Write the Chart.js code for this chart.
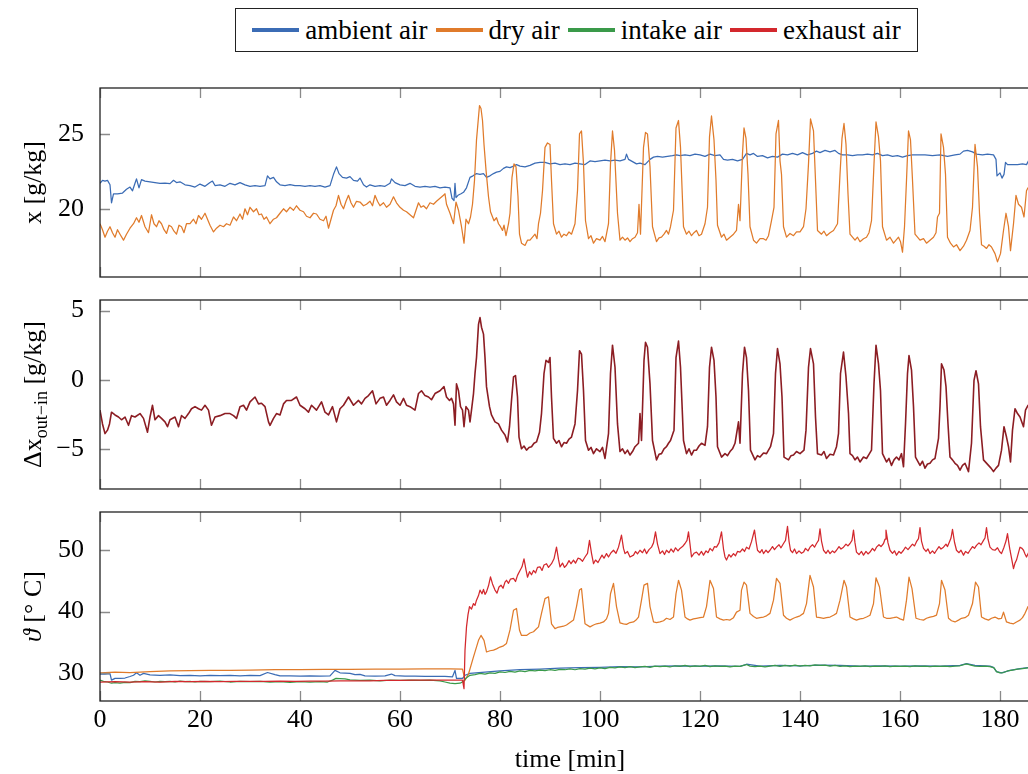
<!DOCTYPE html>
<html>
<head>
<meta charset="utf-8">
<script src="https://cdn.jsdelivr.net/npm/chart.js@4.4.0/dist/chart.umd.min.js"></script>
<style>
  html, body { margin: 0; padding: 0; background: #fff; overflow: hidden; }
  .wrap { position: relative; width: 1028px; height: 774px; overflow: hidden; }
  .wrap canvas { position: absolute; left: 0; }
  #legend {
    position: absolute; left: 235px; top: 8px; width: 683px; height: 44px;
    box-sizing: border-box; border: 1.3px solid #222;
    display: flex; align-items: center; justify-content: center;
    font-family: "Liberation Serif", serif; font-size: 27px; color: #000;
  }
  #legend .item { display: flex; align-items: center; margin: 0 4px; white-space: nowrap; }
  #legend .swatch { display: inline-block; width: 47px; height: 3.5px; margin-right: 6px; }
</style>
</head>
<body>
<div class="wrap">
  <div id="legend"></div>
  <canvas id="p1" width="1040" height="205" style="top:80px"></canvas>
  <canvas id="p2" width="1040" height="205" style="top:292px"></canvas>
  <canvas id="p3" width="1040" height="276" style="top:504px"></canvas>
</div>
<script>
// ---- data: [time in min, value] ----
const timeTicks = [0, 20, 40, 60, 80, 100, 120, 140, 160, 180];
const humidityTicks = [20, 25];
const deltaTicks = [-5, 0, 5];
const tempTicks = [30, 40, 50];

const seriesNames = ['ambient air', 'dry air', 'intake air', 'exhaust air'];

// panel 1: absolute humidity x [g/kg]
const ambientHumidity = [[0,21.7],[0.5,21.9],[1,21.85],[1.5,21.9],[2,21.6],[2.3,20.4],[2.7,21.0],[3.5,21.0],[4.5,21.05],[5.3,21.3],[6,21.45],[6.5,21.2],[7,21.7],[7.3,22.0],[7.8,21.4],[8.3,21.95],[9,21.85],[10,21.8],[11,21.75],[12,21.7],[13,21.72],[14,21.68],[14.7,21.9],[15.3,21.75],[16,21.8],[17,21.6],[18,21.55],[19,21.45],[20,21.65],[21,21.5],[22,21.75],[22.5,21.85],[23,21.55],[24,21.6],[25,21.5],[26,21.7],[27,21.6],[28,21.75],[29,21.6],[30,21.5],[31,21.55],[32,21.5],[33,21.55],[33.5,22.2],[34,22.0],[34.7,22.1],[35.3,21.8],[36,21.6],[37,21.55],[38,21.62],[39,21.55],[40,21.55],[41,21.5],[42,21.55],[43,21.5],[44,21.55],[45,21.45],[46,21.55],[46.7,22.3],[47.3,22.8],[47.8,22.35],[48.5,22.1],[49.3,22.05],[50,22.15],[50.7,21.9],[51.5,21.85],[52,22.05],[52.7,21.6],[53.3,21.45],[54,21.6],[55,21.5],[56,21.55],[57,21.5],[58,21.7],[58.3,22.0],[59,21.75],[60,21.6],[61,21.55],[62,21.7],[63,21.5],[64,21.45],[65,21.5],[66,21.45],[67,21.5],[68,21.4],[69,21.45],[70,21.4],[70.4,20.7],[70.8,20.55],[71,21.7],[71.2,20.75],[71.6,20.9],[72.2,21.0],[72.7,21.1],[73.3,21.4],[74,22.1],[74.6,22.2],[75.3,22.35],[76,22.3],[76.7,22.35],[77.3,22.1],[78,22.2],[78.7,22.35],[79.3,22.45],[80,22.5],[80.7,22.7],[81.3,22.8],[82,22.75],[82.7,22.85],[83.3,22.95],[84,22.85],[85,22.8],[86,22.9],[87,23.05],[88,23.1],[89,23.1],[90,23.0],[91,23.05],[92,22.95],[93,23.0],[94,22.95],[95,23.05],[96,23.0],[97,22.95],[98,23.2],[99,23.15],[100,23.2],[101,23.25],[102,23.2],[103,23.25],[104,23.2],[105,23.3],[105.3,23.65],[105.7,23.3],[106.5,23.15],[107.3,23.0],[108,23.05],[109,22.95],[110,23.3],[110.7,23.45],[111.5,23.5],[112.5,23.45],[113.5,23.5],[114.5,23.55],[115.3,23.6],[116,23.55],[117,23.6],[118,23.55],[119,23.65],[120,23.6],[121,23.5],[122,23.65],[123,23.55],[124,23.6],[124.7,23.3],[125.5,23.25],[126.5,23.3],[127.5,23.2],[128.5,23.3],[129.3,23.7],[130,23.6],[130.7,23.7],[131.5,23.5],[132.5,23.55],[133.5,23.4],[134.5,23.5],[135.5,23.45],[136.5,23.65],[137.5,23.6],[138.5,23.7],[139.5,23.6],[140.5,23.75],[141.5,23.6],[142.5,23.7],[143.3,23.85],[144,23.75],[145,23.9],[146,23.8],[147,23.9],[147.7,23.7],[148.5,23.6],[149.5,23.6],[150.5,23.55],[151.5,23.6],[152.5,23.6],[153.5,23.65],[154.5,23.6],[155.5,23.7],[156.5,23.55],[157.5,23.6],[158.5,23.5],[159.5,23.55],[160.5,23.45],[161.5,23.55],[162.5,23.6],[163.5,23.6],[165,23.6],[166.5,23.55],[168,23.6],[169.5,23.5],[171,23.6],[172,23.65],[172.7,23.85],[173.5,23.9],[174.5,23.8],[175.3,23.65],[176.5,23.6],[177.5,23.65],[178.7,23.6],[179.2,23.3],[179.4,22.2],[180,22.4],[180.4,22.05],[180.8,22.3],[181.1,23.1],[181.5,22.95],[182.5,22.95],[183.5,22.95],[184.5,23.0],[185.3,22.95],[185.7,23.2],[186.5,23.2],[188,23.2]];

const dryHumidity = [[0,19.0],[0.5,18.6],[1,18.1],[1.5,18.5],[2,18.8],[2.5,18.4],[3,18.1],[3.5,18.6],[4,18.3],[4.7,17.9],[5.3,18.3],[6,18.7],[6.7,19.0],[7.3,19.4],[7.8,19.1],[8.3,19.55],[9,18.8],[9.7,18.4],[10.3,19.6],[10.8,19.0],[11.3,18.8],[11.8,19.2],[12.3,19.0],[12.8,18.6],[13.3,18.35],[13.8,18.9],[14.3,18.8],[14.8,18.5],[15.3,18.3],[15.8,18.9],[16.3,18.8],[16.8,18.4],[17.3,19.0],[18,19.0],[18.7,19.3],[19.2,19.0],[19.7,19.55],[20.3,19.3],[21,19.7],[21.5,19.3],[22,18.9],[22.7,18.45],[23.3,18.7],[24,18.9],[24.7,18.8],[25.3,19.0],[26,18.9],[26.7,19.45],[27.3,19.2],[28,19.65],[28.5,19.3],[29,20.0],[29.5,19.6],[30,20.1],[30.7,19.8],[31.3,20.0],[31.8,19.6],[32.3,19.65],[32.8,19.3],[33.3,19.45],[34,19.0],[34.7,19.3],[35.3,19.4],[36,19.7],[36.7,20.0],[37.3,19.8],[38,20.1],[38.7,19.9],[39.3,20.2],[40,19.9],[40.7,19.8],[41.3,19.5],[42,19.4],[42.7,19.7],[43.3,19.65],[44,19.3],[44.7,19.2],[45.2,19.5],[45.7,18.7],[46.2,19.3],[46.7,19.9],[47.2,20.2],[47.7,20.9],[48.2,20.3],[48.7,20.0],[49.2,20.5],[49.7,20.9],[50.2,20.4],[50.7,20.1],[51.3,20.5],[52,20.45],[52.7,20.2],[53.3,20.3],[54,20.5],[54.5,20.2],[55,20.9],[55.5,20.5],[56,20.2],[56.7,20.4],[57.3,20.1],[58,20.3],[58.7,20.8],[59.3,20.4],[60,20.1],[60.7,19.9],[61.3,19.8],[62,19.6],[62.7,19.4],[63.2,19.9],[63.7,20.4],[64.2,20.1],[64.7,20.2],[65.3,20.0],[66,20.4],[66.7,20.3],[67.3,20.5],[68,20.7],[68.7,20.9],[69,21.0],[69.3,20.3],[70,19.7],[70.7,19.0],[71.2,20.45],[71.7,19.9],[72.3,18.8],[72.8,17.7],[73.2,19.3],[73.7,19.0],[74.1,19.45],[74.5,20.3],[74.9,21.9],[75.3,24.6],[75.9,26.9],[76.2,26.7],[76.5,25.9],[76.8,24.3],[77.2,22.6],[77.7,20.8],[78.1,19.8],[78.8,19.2],[79.3,19.4],[79.7,19.0],[80.1,18.8],[80.5,18.55],[80.8,18.9],[81.2,18.2],[81.7,19.0],[82,19.7],[82.4,22.1],[82.8,23.0],[83.2,22.8],[83.6,20.8],[83.9,18.3],[84.3,17.7],[85,17.55],[85.5,17.9],[86,17.9],[86.5,18.1],[87,18.3],[87.4,18.0],[87.7,19.0],[88.1,19.7],[88.5,21.2],[89,24.1],[89.5,24.4],[90,24.3],[90.3,21.9],[90.7,19.0],[91.3,18.3],[91.8,18.5],[92.3,18.1],[92.8,18.3],[93.3,18.2],[93.8,18.45],[94.3,18.3],[95,19.0],[95.5,21.2],[95.9,25.0],[96.3,25.2],[96.7,23.0],[97.1,19.2],[97.7,18.0],[98.2,18.2],[98.7,17.7],[99.3,18.0],[100,17.9],[100.5,18.15],[101,17.8],[101.7,19.0],[102.1,23.0],[102.5,25.2],[102.9,23.9],[103.5,19.7],[104,17.9],[104.5,18.1],[105,17.9],[105.5,18.05],[106,17.8],[106.5,18.0],[107,18.1],[107.5,18.4],[107.8,20.3],[108.1,18.3],[108.7,24.1],[109.1,25.1],[109.5,25.0],[110,22.8],[110.5,18.8],[111.3,17.8],[111.8,18.05],[112.3,18.1],[112.8,18.3],[113.3,18.55],[113.7,18.3],[114.1,18.8],[114.7,19.9],[115.2,25.4],[115.7,25.9],[116.1,24.1],[116.7,18.8],[117.3,18.3],[117.8,18.5],[118.3,18.2],[118.8,18.4],[119.3,18.55],[119.8,18.2],[120.3,18.3],[121,19.0],[121.5,20.1],[121.9,24.8],[122.3,26.2],[122.8,24.6],[123.2,21.9],[123.5,18.9],[124.3,18.1],[124.8,18.3],[125.3,17.9],[126,18.1],[126.7,18.3],[127.3,18.55],[127.7,20.3],[128,19.2],[128.5,23.7],[128.8,25.4],[129.2,24.7],[129.6,22.3],[130,18.8],[130.7,17.9],[131.3,17.7],[132,18.0],[132.7,18.0],[133.2,17.9],[133.7,18.2],[134.3,19.2],[134.8,20.1],[135.2,25.0],[135.7,25.9],[136,23.2],[136.3,22.3],[136.7,18.8],[137.3,18.1],[138,18.35],[138.7,18.2],[139.3,18.45],[140,18.45],[140.7,18.8],[141.2,20.0],[141.7,23.0],[142.1,26.0],[142.7,25.2],[143.1,21.9],[143.5,18.55],[144.3,18.3],[144.8,18.5],[145.3,18.2],[146,18.4],[146.7,18.55],[147.5,19.0],[148,22.3],[148.4,24.7],[148.8,25.7],[149.2,24.3],[149.6,21.0],[150,18.3],[150.5,18.1],[151,17.9],[151.5,18.1],[152,17.8],[152.7,18.0],[153.3,18.1],[153.8,18.4],[154.3,19.2],[154.8,23.0],[155.2,25.8],[155.7,24.8],[156.1,23.2],[156.5,18.8],[157.3,17.9],[158,18.1],[158.7,17.7],[159.2,17.9],[159.7,18.1],[160.1,17.8],[160.5,17.1],[160.9,18.8],[161.3,21.9],[161.7,25.2],[162.1,24.6],[162.5,21.9],[163,18.3],[163.5,18.1],[164,17.9],[164.7,18.0],[165.3,17.7],[166,17.9],[166.7,18.1],[167.2,18.4],[167.5,19.45],[167.9,19.7],[168.2,25.0],[168.7,24.1],[169.1,22.3],[169.5,18.1],[170.1,17.7],[170.7,17.45],[171.3,17.6],[172,17.2],[172.7,17.5],[173.3,17.9],[174,18.55],[174.5,20.1],[175,24.3],[175.5,22.8],[175.9,19.7],[176.3,17.6],[176.8,17.5],[177.3,17.35],[177.8,17.6],[178.3,17.45],[179,17.0],[179.5,16.45],[180.1,17.0],[180.7,18.55],[181.2,19.7],[181.7,18.8],[182.1,17.2],[182.7,19.0],[183.2,20.9],[183.7,20.3],[184.3,20.1],[184.8,19.45],[185.3,21.2],[185.6,21.4],[186.5,21.0],[188,20.8]];

// panel 2: humidity difference out - in [g/kg]
const deltaHumidity = [[0,-2.2],[0.5,-3.2],[1,-3.9],[1.5,-3.65],[1.9,-3.2],[2.3,-2.35],[3,-2.55],[3.7,-2.7],[4.3,-2.9],[5,-2.7],[5.7,-3.3],[6.3,-2.6],[7,-2.7],[8,-2.45],[8.7,-2.8],[9.5,-3.8],[10,-2.7],[10.5,-1.85],[11,-2.9],[11.7,-2.6],[12.3,-2.8],[13,-3.05],[13.5,-3.4],[14,-2.9],[15,-2.7],[15.7,-3.4],[16.3,-2.6],[17,-2.8],[17.7,-2.45],[18.3,-2.1],[19,-1.95],[19.7,-2.1],[20.3,-2.2],[21,-1.85],[21.7,-2.2],[22.3,-3.3],[23,-2.7],[24,-2.6],[25,-2.45],[26,-2.45],[26.7,-2.6],[27.3,-2.8],[28,-1.95],[28.7,-1.85],[29.3,-2.2],[30,-1.6],[31,-1.25],[31.7,-1.75],[32.3,-1.7],[33,-1.95],[33.7,-3.05],[34,-3.3],[34.7,-2.8],[35.3,-2.45],[36,-2.55],[36.7,-1.75],[37.3,-1.5],[38.3,-1.5],[39.3,-1.25],[40,-1.85],[41,-2.1],[41.7,-2.35],[42.3,-1.85],[43.3,-2.2],[44.3,-1.6],[45,-2.35],[45.7,-2.55],[46.5,-1.95],[47.3,-3.05],[48,-2.1],[48.7,-1.85],[49.7,-1.25],[50.7,-1.85],[51.7,-1.5],[52.3,-1.75],[53,-1.35],[53.7,-1.15],[54.5,-0.8],[55.2,-1.75],[56,-1.35],[56.7,-1.25],[57.3,-1.85],[58,-1.5],[58.7,-1.1],[59.3,-1.6],[60,-1.85],[60.7,-1.35],[61.3,-1.85],[62,-1.95],[63,-2.2],[63.7,-1.0],[64.3,-0.8],[65,-1.15],[65.7,-1.25],[66.3,-1.45],[67,-1.0],[68,-0.8],[68.8,-0.5],[69.3,-1.25],[69.9,-1.5],[70.3,-1.35],[70.7,-1.75],[71,-3.3],[71.3,-0.3],[71.7,-0.8],[72.1,-1.95],[72.5,-2.2],[72.8,-3.4],[73.2,-1.95],[73.7,-2.2],[74,-3.05],[74.3,-2.2],[74.7,-1.0],[75,0.45],[75.3,1.6],[75.7,4.0],[76,4.5],[76.3,3.8],[76.7,3.3],[77,1.6],[77.3,-0.5],[77.9,-1.95],[78.3,-2.55],[79,-3.05],[79.7,-3.2],[80.3,-3.65],[81,-4.0],[81.5,-4.5],[81.9,-3.4],[82.3,-1.5],[82.7,0.2],[83.1,0.3],[83.5,-1.25],[83.8,-4.15],[84.3,-5.0],[84.8,-4.8],[85.3,-5.1],[85.8,-4.9],[86.3,-4.85],[86.8,-4.6],[87.3,-4.5],[87.9,-3.8],[88.3,-2.45],[88.8,0.45],[89.2,1.4],[89.7,1.25],[90,1.6],[90.3,-1.25],[90.7,-4.25],[91.3,-4.6],[91.8,-4.4],[92.3,-4.85],[92.8,-4.55],[93.3,-4.6],[93.8,-4.3],[94.3,-4.15],[95,-3.2],[95.5,-0.8],[95.9,2.1],[96.3,1.85],[96.7,-0.8],[97.1,-4.4],[97.7,-5.1],[98.2,-4.9],[98.7,-5.35],[99.3,-5.0],[100,-5.2],[100.5,-4.9],[101,-5.7],[101.7,-3.9],[102.1,0.45],[102.5,2.5],[103,0.9],[103.5,-3.2],[104,-5.2],[104.5,-5.0],[105,-5.35],[105.5,-5.1],[106,-5.45],[106.5,-5.2],[107,-4.85],[107.7,-4.6],[108,-2.45],[108.3,-4.4],[108.8,1.4],[109.1,2.7],[109.5,2.35],[110,-0.3],[110.5,-4.4],[111.3,-5.8],[111.8,-5.4],[112.3,-5.35],[112.8,-5.0],[113.3,-4.85],[113.7,-4.6],[114.1,-4.4],[114.8,-3.65],[115.2,1.6],[115.7,2.8],[116.1,0.9],[116.7,-4.4],[117.3,-5.35],[117.8,-5.0],[118.3,-5.45],[118.8,-5.1],[119.3,-5.1],[119.8,-4.8],[120.3,-4.6],[121,-4.75],[121.5,-3.4],[121.9,0.9],[122.3,2.35],[122.8,1.4],[123.2,-1.25],[123.5,-4.85],[124.3,-5.6],[125,-5.35],[125.5,-5.5],[126,-5.2],[126.5,-5.0],[127,-4.6],[127.7,-3.05],[128,-4.6],[128.5,0.45],[128.9,2.35],[129.3,1.6],[129.7,-0.8],[130.1,-5.1],[131,-5.8],[131.5,-5.5],[132,-5.6],[132.7,-5.3],[133.3,-5.35],[134.1,-4.85],[134.7,-3.9],[135.1,0.45],[135.5,2.25],[136,1.15],[136.4,-1.25],[136.8,-5.6],[137.7,-5.8],[138.2,-5.5],[138.7,-5.45],[139.3,-5.2],[140,-5.35],[140.8,-5.1],[141.2,-3.65],[141.7,0.9],[142.1,2.25],[142.7,1.15],[143.1,-2.7],[143.5,-5.35],[144.3,-5.45],[144.8,-5.2],[145.3,-5.7],[146,-5.4],[146.7,-5.45],[147.3,-4.85],[147.7,-3.9],[148.1,0.45],[148.7,2.0],[149.2,0.2],[149.7,-2.45],[150,-5.35],[150.5,-5.5],[151,-5.8],[151.5,-5.6],[152,-5.95],[152.7,-5.6],[153.3,-5.7],[153.8,-5.4],[154.3,-5.1],[154.8,-0.3],[155.2,2.5],[155.7,1.15],[156.1,-0.8],[156.5,-5.35],[157.3,-5.95],[157.8,-5.7],[158.3,-6.2],[158.8,-5.8],[159.3,-5.6],[159.8,-5.8],[160.3,-5.35],[160.7,-6.3],[161.1,-3.2],[161.5,0.45],[161.8,1.75],[162.3,0.7],[162.7,-1.95],[163.1,-5.6],[164,-6.2],[164.5,-5.9],[165,-6.4],[165.5,-6.1],[166,-6.05],[166.5,-5.8],[167,-5.7],[167.7,-4.25],[168,-1.95],[168.3,1.15],[168.8,0.7],[169.2,-0.5],[169.6,-3.2],[170,-5.6],[170.5,-5.8],[171,-6.05],[171.5,-6.2],[172,-6.55],[172.5,-6.2],[173,-6.05],[173.7,-6.65],[174.3,-4.6],[174.8,-0.05],[175.2,0.65],[175.7,-0.3],[176.1,-3.4],[176.7,-5.8],[177.2,-6.0],[177.7,-6.2],[178.2,-6.4],[178.7,-6.65],[179.2,-6.4],[179.7,-6.2],[180.3,-5.1],[180.8,-3.4],[181.3,-4.15],[181.7,-4.85],[182.1,-5.95],[182.5,-3.65],[183,-2.1],[183.5,-2.45],[184,-2.7],[184.7,-3.4],[185.1,-2.2],[185.6,-1.85],[186.5,-2.0],[188,-2.1]];

// panel 3: temperatures [°C]
const ambientTemp = [[0,29.8],[1,29.8],[2,29.85],[2.3,28.8],[3,29.1],[4,29.1],[5,29.15],[6,29.4],[6.7,29.6],[7.3,30.0],[8,29.6],[8.7,29.9],[10,29.65],[12,29.6],[14,29.65],[16,29.55],[18,29.6],[20,29.5],[22,29.6],[24,29.55],[26,29.6],[28,29.5],[30,29.6],[32,29.55],[33.5,30.05],[35,29.7],[36,29.5],[38,29.5],[40,29.45],[42,29.5],[44,29.45],[46,29.5],[47,30.4],[48,30.0],[49,29.95],[50,29.9],[51,29.7],[52,29.75],[53,29.5],[55,29.45],[57,29.5],[58.3,29.8],[59,29.55],[61,29.45],[63,29.45],[65,29.4],[67,29.4],[69,29.4],[70.5,29.35],[71,30.4],[71.3,29.1],[72.5,29.1],[73,29.6],[74,29.9],[77,30.1],[80,30.3],[84,30.5],[88,30.6],[92,30.75],[96,30.85],[100,30.9],[104,31.0],[108,30.95],[112,31.1],[116,31.15],[120,31.1],[124,31.15],[128,31.05],[129.3,31.4],[132,31.1],[136,31.2],[140,31.15],[144,31.25],[148,31.2],[152,31.1],[156,31.15],[160,31.1],[164,31.15],[168,31.1],[172,31.2],[173.3,31.5],[175,31.2],[178,31.1],[178.7,30.9],[179.3,30.2],[180.3,30.0],[182,30.4],[184,30.7],[186,30.9],[188,30.9]];

const dryTemp = [[0,30.0],[3,30.1],[6,30.05],[10,30.2],[14,30.3],[18,30.35],[22,30.4],[26,30.4],[30,30.45],[35,30.5],[40,30.5],[45,30.55],[50,30.55],[55,30.6],[60,30.6],[65,30.65],[70,30.65],[72.5,30.6],[73,28.8],[73.7,29.8],[74.7,32.6],[75.7,35.3],[76.2,36.1],[76.8,35.3],[77.3,33.4],[78,33.6],[78.7,33.7],[79.3,33.9],[80,34.2],[80.7,34.4],[81.3,34.8],[82,37.0],[82.7,40.2],[83.3,40.5],[83.9,36.95],[84.3,36.1],[85.3,36.1],[86,36.5],[86.7,36.7],[87.2,37.1],[87.7,37.5],[88.3,39.7],[89,42.1],[89.7,42.4],[90.3,38.0],[91,37.2],[91.5,37.4],[92,37.5],[92.7,37.6],[93.3,37.8],[94,38.2],[94.7,38.6],[95.3,40.8],[95.9,43.5],[96.3,43.75],[97,38.0],[98,37.5],[98.7,37.8],[99.3,38.0],[100,38.1],[100.7,38.3],[101.3,38.8],[101.7,39.7],[102.1,42.9],[102.7,44.6],[103.3,40.8],[104,38.15],[104.7,38.0],[105.3,37.9],[106,38.2],[106.7,38.3],[107.2,38.6],[107.7,39.1],[108.3,41.85],[108.8,44.3],[109.5,44.6],[110,40.8],[110.7,38.3],[111.3,38.2],[112,38.3],[112.7,38.5],[113.3,38.9],[114,38.7],[114.7,39.1],[115.2,42.9],[115.7,45.1],[116.3,43.5],[117,39.1],[117.5,38.8],[118,38.6],[118.7,38.8],[119.3,38.9],[120,39.0],[120.7,39.1],[121.3,40.8],[122,45.1],[122.7,43.75],[123.3,39.1],[124,38.8],[124.7,38.6],[125.3,38.7],[126,38.6],[126.7,39.0],[127.3,39.9],[128,40.2],[128.3,43.5],[128.8,44.8],[129.3,44.3],[130,39.7],[130.7,39.2],[131.3,38.9],[132,39.0],[132.7,39.1],[133.3,39.3],[134,39.7],[134.7,41.85],[135.3,45.4],[136,44.6],[136.7,39.4],[137.3,38.9],[138,38.6],[138.7,38.9],[139.3,39.1],[140,39.3],[140.7,39.7],[141.3,41.3],[142,45.9],[142.7,44.0],[143.3,39.1],[144,39.0],[144.7,38.9],[145.3,39.0],[146,39.1],[146.7,39.4],[147.3,39.7],[148,41.85],[148.8,45.1],[149.3,44.0],[150,39.1],[150.7,38.8],[151.3,38.6],[152,38.8],[152.7,38.9],[153.3,39.1],[154,39.4],[154.7,41.3],[155.2,45.5],[155.9,44.0],[156.7,39.1],[157.3,38.9],[158,38.9],[158.7,39.0],[159.3,39.1],[160,38.8],[160.7,38.6],[161.3,41.85],[161.8,45.6],[162.4,43.75],[163.2,38.9],[164,38.7],[164.7,38.6],[165.3,38.9],[166,39.1],[166.7,39.2],[167.3,39.4],[167.9,41.3],[168.3,45.1],[169,43.5],[169.7,38.9],[170.3,38.5],[171,38.3],[171.7,38.6],[172.3,38.9],[173,39.0],[173.7,39.4],[174.5,41.3],[175.1,44.8],[175.7,44.0],[176.3,39.1],[177,38.8],[177.7,38.6],[178.3,38.9],[179,39.1],[179.7,38.8],[180.3,38.9],[180.7,39.9],[181.3,38.3],[182,38.1],[182.7,38.0],[183.3,38.3],[184,38.6],[184.5,39.0],[185,39.7],[185.6,40.8],[186.5,40.5],[188,40.6]];

const intakeTemp = [[0,28.8],[0.7,28.6],[1.5,28.5],[2.3,28.3],[3,28.4],[4,28.3],[5,28.45],[6,28.4],[7,28.6],[8,28.55],[9,28.7],[10,28.6],[11,28.5],[12,28.6],[13,28.55],[14,28.6],[15,28.5],[16,28.65],[17,28.55],[18,28.6],[19,28.5],[20,28.6],[22,28.55],[24,28.65],[26,28.5],[28,28.6],[30,28.55],[32,28.6],[34,28.5],[36,28.55],[38,28.45],[40,28.55],[42,28.5],[44,28.55],[45.5,28.5],[46.5,28.8],[47.2,29.1],[48,29.05],[49,29.0],[50,28.85],[51,28.8],[52,28.75],[54,28.8],[56,28.7],[58,28.8],[60,28.75],[62,28.8],[64,28.75],[66,28.8],[68,28.7],[69,28.5],[70,28.3],[71,28.25],[72,28.3],[72.7,28.6],[73.3,29.2],[74,29.6],[75,29.7],[76,29.9],[77,29.8],[78,30.0],[79,29.9],[80,30.15],[81,30.05],[82,30.25],[83,30.1],[84,30.3],[85,30.2],[86,30.4],[87,30.3],[88,30.45],[89,30.35],[90,30.5],[91,30.4],[92,30.55],[93,30.5],[94,30.65],[95,30.5],[96,30.7],[97,30.6],[98,30.75],[99,30.65],[100,30.8],[101,30.7],[102,30.9],[103,30.8],[104,30.95],[105,30.85],[106,31.0],[107,30.85],[108,30.95],[109,31.05],[110,30.9],[111,31.1],[112,31.0],[113,31.1],[114,30.95],[115,31.15],[116,31.05],[117,31.2],[118,31.0],[119,31.15],[120,31.05],[121,31.2],[122,31.0],[123,31.15],[124,31.05],[125,31.1],[126,30.95],[127,31.1],[128,31.05],[129.3,31.35],[130,31.1],[131,31.0],[132,31.1],[133,30.95],[134,31.1],[135,31.2],[136,31.05],[137,31.2],[138,31.1],[139,31.25],[140,31.1],[141,31.2],[142,31.15],[143,31.3],[144,31.2],[145,31.25],[146,31.1],[147,31.2],[148,31.05],[149,31.15],[150,31.0],[151,31.1],[152,31.05],[153,31.15],[154,31.0],[155,31.1],[156,31.05],[157,31.15],[158,31.0],[159,31.1],[160,31.05],[161,31.1],[162,31.0],[163,31.15],[164,31.05],[165,31.1],[166,31.0],[167,31.1],[168,31.05],[169,31.1],[170,31.0],[171,31.1],[172,31.15],[173.3,31.45],[174,31.3],[175,31.1],[176,31.05],[177,31.1],[178,31.0],[178.8,30.8],[179.3,30.2],[180,30.0],[180.7,30.05],[181.5,30.3],[182.5,30.45],[183.5,30.6],[184.5,30.7],[185.5,30.8],[186.5,30.85],[188,30.85]];

const exhaustTemp = [[0,28.5],[3,28.55],[6,28.5],[9,28.55],[12,28.5],[15,28.6],[18,28.55],[21,28.6],[24,28.55],[27,28.6],[30,28.6],[33,28.6],[36,28.65],[39,28.6],[42,28.65],[45,28.65],[48,28.7],[51,28.7],[54,28.7],[57,28.75],[60,28.75],[63,28.8],[66,28.8],[69,28.8],[72.5,28.8],[72.8,27.4],[73,33.7],[73.3,37.5],[73.6,39.5],[73.9,40.8],[74.3,40.4],[74.7,41.3],[75,41.0],[75.3,41.85],[75.7,42.6],[76,43.5],[76.4,42.9],[76.7,43.6],[77,42.8],[77.3,43.2],[77.7,44.2],[78.1,45.65],[78.5,44.5],[79,43.5],[79.4,43.0],[79.8,44.0],[80.2,44.3],[80.6,43.8],[81,44.8],[81.3,45.1],[81.7,44.6],[82.1,45.3],[82.7,45.4],[83.1,44.9],[83.5,45.9],[84,46.7],[84.4,47.3],[84.8,48.6],[85.2,46.8],[85.5,45.6],[85.9,46.5],[86.3,46.0],[86.7,46.7],[87.1,46.3],[87.5,47.2],[88,47.3],[88.4,46.7],[88.8,47.6],[89.3,47.8],[89.7,47.2],[90.3,47.8],[90.8,48.6],[91.3,50.5],[91.7,48.5],[92,47.3],[92.5,47.9],[92.9,47.2],[93.3,47.55],[93.8,48.3],[94.2,47.8],[94.7,48.4],[95.1,47.9],[95.6,48.7],[96,48.6],[96.5,48.2],[97,48.9],[97.5,49.5],[97.9,51.6],[98.3,49.5],[98.7,47.8],[99.1,48.4],[99.6,48.0],[100,48.6],[100.4,49.2],[100.8,48.7],[101.3,49.45],[101.7,48.9],[102.2,49.6],[102.7,50.0],[103.2,49.5],[103.7,50.5],[104.3,52.45],[104.7,50.3],[105,49.45],[105.5,49.8],[106,48.9],[106.7,49.2],[107.1,49.8],[107.5,49.4],[108,50.0],[108.5,49.6],[108.9,50.2],[109.3,49.45],[109.8,50.1],[110.3,50.5],[110.7,51.2],[111.1,53.0],[111.5,51.0],[112,49.45],[112.5,49.9],[112.9,49.3],[113.3,50.0],[113.8,49.6],[114.2,50.2],[114.7,49.7],[115.1,50.4],[115.6,49.9],[116,50.3],[116.5,50.6],[117,51.1],[117.4,51.6],[117.7,53.0],[118,51.0],[118.3,48.9],[118.8,49.5],[119.3,49.7],[119.8,49.2],[120.3,49.8],[120.7,49.2],[121.2,49.9],[121.6,49.6],[122,50.3],[122.5,49.9],[122.9,50.6],[123.3,50.5],[123.8,51.2],[124.3,53.0],[124.7,50.2],[125,48.9],[125.3,48.4],[125.8,49.3],[126.2,48.9],[126.7,49.45],[127.1,49.1],[127.5,49.8],[128,49.7],[128.5,50.2],[128.9,49.8],[129.3,50.5],[129.8,50.2],[130.3,51.4],[130.9,53.3],[131.2,51.5],[131.5,50.0],[132,49.6],[132.4,50.1],[132.7,49.45],[133.2,50.0],[133.6,49.6],[134,50.0],[134.5,50.6],[134.9,50.1],[135.3,50.5],[135.8,50.9],[136.2,50.4],[136.7,51.1],[137.1,51.6],[137.5,53.9],[137.8,51.5],[138.1,50.0],[138.5,49.6],[138.9,50.2],[139.3,49.45],[139.8,49.9],[140.3,49.5],[140.7,49.7],[141.1,50.3],[141.6,49.9],[142,50.5],[142.5,50.9],[142.9,50.5],[143.3,51.1],[143.7,51.6],[144,53.5],[144.3,51.5],[144.7,50.0],[145.2,49.5],[145.6,50.0],[146,49.45],[146.5,49.9],[146.9,49.6],[147.3,50.0],[147.8,50.6],[148.2,50.2],[148.7,50.5],[149.2,51.0],[149.6,50.7],[150,51.1],[150.4,51.6],[150.7,53.3],[151,51.2],[151.3,49.7],[151.8,49.3],[152.3,49.8],[152.7,49.2],[153.2,49.8],[153.6,49.4],[154,49.7],[154.5,50.3],[154.9,49.9],[155.3,50.5],[155.8,50.9],[156.2,50.6],[156.7,51.1],[157,51.8],[157.2,53.3],[157.6,51.2],[158,50.0],[158.5,49.5],[158.9,49.9],[159.3,49.2],[159.8,49.8],[160.2,49.5],[160.7,50.0],[161.1,50.5],[161.6,50.1],[162,50.5],[162.5,51.0],[162.9,50.7],[163.3,51.4],[163.7,51.9],[164,53.7],[164.3,51.5],[164.7,50.3],[165.2,49.8],[165.6,50.2],[166,49.45],[166.5,49.9],[166.9,49.5],[167.3,50.0],[167.8,50.6],[168.2,50.2],[168.7,50.5],[169.2,51.0],[169.5,50.6],[169.9,51.4],[170.2,52.0],[170.5,53.4],[170.9,51.3],[171.3,50.0],[171.8,49.6],[172.2,50.0],[172.7,49.2],[173.1,49.8],[173.6,49.5],[174,50.0],[174.5,50.6],[174.9,50.3],[175.3,50.8],[175.8,51.2],[176.2,50.9],[176.7,51.6],[177,52.0],[177.3,53.7],[177.6,51.8],[178,50.5],[178.5,50.1],[179,50.0],[179.5,50.4],[179.9,49.8],[180.3,49.45],[180.8,50.5],[181.2,51.5],[181.5,52.7],[181.8,51.0],[182,50.0],[182.4,48.3],[182.7,47.0],[183,47.9],[183.3,48.4],[183.7,49.6],[184,50.5],[184.4,50.3],[184.7,50.0],[185,49.4],[185.3,48.9],[185.7,49.6],[186.2,49.2],[186.7,49.5],[188,49.3]];

// ---- styling ----
const colors = { ambient: '#3b6cb5', dry: '#e07b2b', intake: '#3a9a4a', exhaust: '#d3282d', delta: '#8c1d23' };
const fontFamily = '"Liberation Serif", "DejaVu Serif", serif';
const labelFont = { family: fontFamily, size: 26 };

// y axis titles, pieces so we can do subscript / italic
const yTitles = {
  p1: [{ text: 'x [g/kg]' }],
  p2: [{ text: '\u0394x' }, { text: 'out\u2212in', size: 18, shift: 6 }, { text: ' [g/kg]' }],
  p3: [{ text: '\u03D1', italic: true }, { text: ' [\u00B0 C]' }]
};
const yTickSets = { p1: humidityTicks, p2: deltaTicks, p3: tempTicks };

// legend (html, same as the latex legend box)
const legendColors = [colors.ambient, colors.dry, colors.intake, colors.exhaust];
document.getElementById('legend').innerHTML = seriesNames.map((n, i) =>
  '<span class="item"><span class="swatch" style="background:' + legendColors[i] + '"></span>' + n + '</span>'
).join('');

const toPoints = arr => arr.map(([x, y]) => ({ x, y }));

function line(data, color, order, width) {
  return {
    data: toPoints(data), borderColor: color, borderWidth: width || 1.25,
    pointRadius: 0, tension: 0, fill: false, order: order,
    borderJoinStyle: 'round'
  };
}

// frame box + inward ticks like pgfplots
const framePlugin = {
  id: 'frame',
  afterDatasetsDraw(chart) {
    const { ctx, chartArea: a } = chart;
    const xs = chart.scales.x, ys = chart.scales.y;
    const yTicks = yTickSets[chart.canvas.id];
    ctx.save();
    ctx.strokeStyle = '#8a8a8a';
    ctx.lineWidth = 1.3;
    ctx.beginPath();
    timeTicks.forEach(v => {
      const px = Math.round(xs.getPixelForValue(v)) + 0.5;
      ctx.moveTo(px, a.top); ctx.lineTo(px, a.top + 10);
      ctx.moveTo(px, a.bottom); ctx.lineTo(px, a.bottom - 10);
    });
    yTicks.forEach(v => {
      const py = Math.round(ys.getPixelForValue(v)) + 0.5;
      ctx.moveTo(a.left, py); ctx.lineTo(a.left + 10, py);
      ctx.moveTo(a.right, py); ctx.lineTo(a.right - 10, py);
    });
    ctx.stroke();
    ctx.strokeStyle = '#222';
    ctx.lineWidth = 1.3;
    ctx.strokeRect(a.left, a.top, a.right - a.left, a.bottom - a.top);
    ctx.restore();
  }
};

const yTitlePlugin = {
  id: 'yTitle',
  afterDraw(chart) {
    const { ctx, chartArea: a } = chart;
    const parts = yTitles[chart.canvas.id];
    const fnt = p => (p.italic ? 'italic ' : '') + (p.size || 26) + 'px ' + fontFamily;
    ctx.save();
    const widths = parts.map(p => { ctx.font = fnt(p); return ctx.measureText(p.text).width; });
    const total = widths.reduce((s, w) => s + w, 0);
    ctx.translate(41, (a.top + a.bottom) / 2);
    ctx.rotate(-Math.PI / 2);
    ctx.fillStyle = '#000';
    ctx.textBaseline = 'alphabetic';
    ctx.textAlign = 'left';
    let x = -total / 2;
    parts.forEach((p, i) => { ctx.font = fnt(p); ctx.fillText(p.text, x, p.shift || 0); x += widths[i]; });
    ctx.restore();
  }
};

function makePanel(id, datasets, yMin, yMax, isBottom) {
  const yTicks = yTickSets[id];
  const xScale = {
    type: 'linear', min: 0, max: 188, display: isBottom,
    afterBuildTicks: s => { s.ticks = timeTicks.map(v => ({ value: v })); },
    grid: { display: false, drawTicks: false },
    border: { display: false },
    ticks: { font: labelFont, color: '#000', padding: 4, maxRotation: 0, autoSkip: false }
  };
  if (isBottom) {
    xScale.afterFit = s => { s.height = 79; s.paddingLeft = 0; s.paddingRight = 0; };
    xScale.title = { display: true, text: 'time [min]', font: labelFont, color: '#000', padding: { top: 0, bottom: 4 } };
  }
  return new Chart(document.getElementById(id), {
    type: 'line',
    data: { datasets: datasets },
    options: {
      responsive: false, animation: false, devicePixelRatio: 1,
      layout: { padding: { top: 8, bottom: isBottom ? 0 : 8, left: 0, right: 0 } },
      scales: {
        x: xScale,
        y: {
          min: yMin, max: yMax,
          afterBuildTicks: s => { s.ticks = yTicks.map(v => ({ value: v })); },
          afterFit: s => { s.width = 100; s.paddingTop = 0; s.paddingBottom = 0; },
          grid: { display: false, drawTicks: false },
          border: { display: false },
          ticks: {
            font: labelFont, color: '#000', padding: 16,
            callback: v => (v < 0 ? '\u2212' + Math.abs(v) : String(v))
          }
        }
      },
      plugins: { legend: { display: false }, tooltip: { enabled: false } }
    },
    plugins: [framePlugin, yTitlePlugin]
  });
}

makePanel('p1', [
  line(ambientHumidity, colors.ambient, 2),
  line(dryHumidity, colors.dry, 1)
], 15.44, 28.07, false);

makePanel('p2', [
  line(deltaHumidity, colors.delta, 1, 1.6)
], -7.91, 5.77, false);

makePanel('p3', [
  line(ambientTemp, colors.ambient, 4),
  line(dryTemp, colors.dry, 3),
  line(intakeTemp, colors.intake, 2),
  line(exhaustTemp, colors.exhaust, 1)
], 25.4, 56.24, true);
</script>
</body>
</html>
